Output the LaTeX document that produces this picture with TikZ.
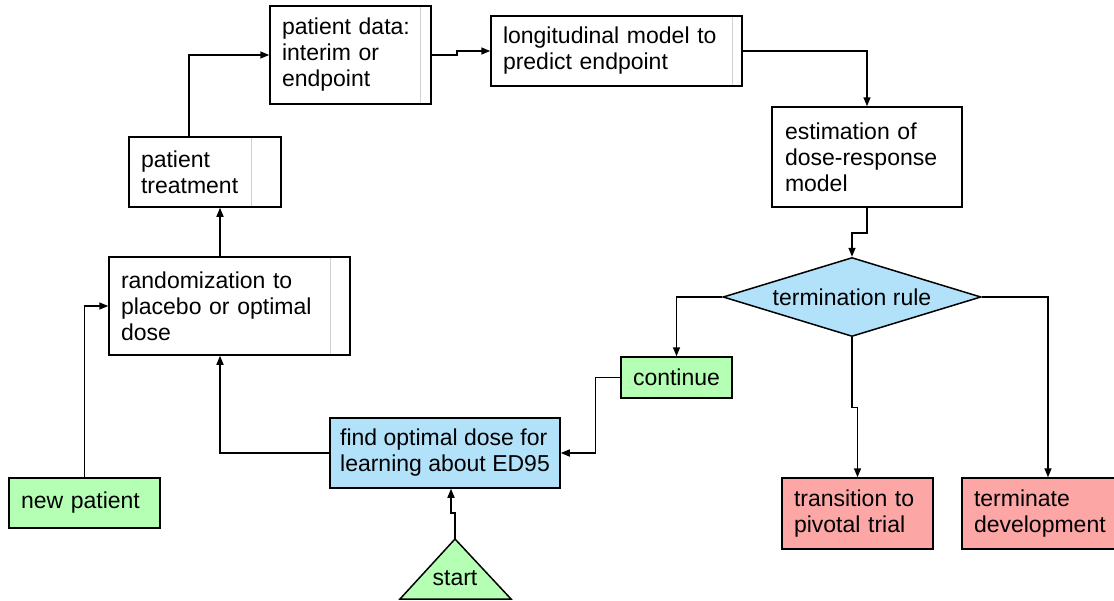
\documentclass[tikz,border=0pt]{standalone}
\usepackage{fontspec}
\setmainfont{Liberation Sans}
\usetikzlibrary{arrows.meta,shapes.geometric}
\definecolor{gfill}{RGB}{180,255,180}
\definecolor{bfill}{RGB}{178,225,250}
\definecolor{rfill}{RGB}{252,166,166}
\begin{document}
\begin{tikzpicture}[x=1pt,y=-1pt,
  every node/.style={font=\fontsize{23pt}{26pt}\selectfont},
  box/.style={draw=black, line width=1.5pt, rectangle, inner xsep=12pt, inner ysep=0pt, align=left},
  arr/.style={line width=1.5pt, -{Triangle[length=9pt,width=7pt]}},
  divider/.style={draw=black!18, line width=0.8pt}]
\useasboundingbox (0,0) rectangle (1114,600);
% nodes
\node[box, minimum width=161pt, minimum height=98pt, text width=137pt] (pd) at (350.5,55) {patient data:\\interim or\\endpoint};
\node[box, minimum width=251pt, minimum height=70pt, text width=227pt] (lm) at (616.5,51) {longitudinal model to\\predict endpoint};
\node[box, minimum width=190pt, minimum height=100pt, text width=164pt] (est) at (867,157) {estimation of\\dose-response\\model};
\node[box, minimum width=152pt, minimum height=70pt, text width=128pt] (pt) at (205,172) {patient\\treatment};
\node[box, minimum width=241pt, minimum height=98pt, text width=217pt] (rnd) at (229.5,306) {randomization to\\placebo or optimal\\dose};
\node[box, fill=gfill, minimum width=151pt, minimum height=50pt, text width=127pt] (np) at (84.5,503) {new patient};
\node[box, fill=bfill, inner xsep=0pt, minimum width=230pt, minimum height=70pt] (fod) at (445,453) {find optimal dose for\\learning about ED95};
\node[box, fill=gfill, minimum width=111pt, minimum height=41pt, text width=87pt] (cont) at (676.5,377.5) {continue};
\node[box, fill=rfill, minimum width=151pt, minimum height=71pt, text width=127pt] (tr) at (857.5,513.5) {transition to\\pivotal trial};
\node[box, fill=rfill, minimum width=155pt, minimum height=71pt, text width=131pt] (term) at (1039.5,513.5) {terminate\\development};
\node[diamond, draw=black, line width=1.5pt, fill=bfill, inner sep=0pt, aspect=3.27, minimum width=258pt, minimum height=79pt] (dia) at (852,297) {termination rule};
% start triangle
\draw[line width=1.5pt, fill=gfill] (400,599) -- (455,539) -- (511,599) -- cycle;
\coordinate (apex) at (455,539);
\node (start) at (455,578) {start};
% faint dividers
\draw[divider] (420,7) -- (420,103);
\draw[divider] (732,17) -- (732,85);
\draw[divider] (251,138) -- (251,206);
\draw[divider] (330,258) -- (330,354);
% connectors
\draw[arr] (np.north) |- (rnd.west);
\draw[arr] (fod.west) -| ([xshift=-9.5pt]rnd.south);
\draw[arr] ([xshift=-9.5pt]rnd.north) -- ([xshift=-9.5pt]rnd.north |- pt.south);
\draw[arr] ([xshift=-16pt]pt.north) |- (pd.west);
\draw[arr] (pd.east) -- ++(25,0) |- (lm.west);
\draw[arr] (lm.east) -| (est.north);
\draw[arr] (est.south) -- ++(0,25) -| (dia.north);
\draw[arr] (dia.west) -| (cont.north);
\draw[arr] (cont.west) -- ++(-25,0) |- (fod.east);
\draw[arr] (dia.south) -- ++(0,70) -| (tr.north);
\draw[arr] (dia.east) -| ([xshift=8.5pt]term.north);
\draw[arr] (apex) -- ++(0,-26) -| ([xshift=6pt]fod.south);
\end{tikzpicture}
\end{document}
